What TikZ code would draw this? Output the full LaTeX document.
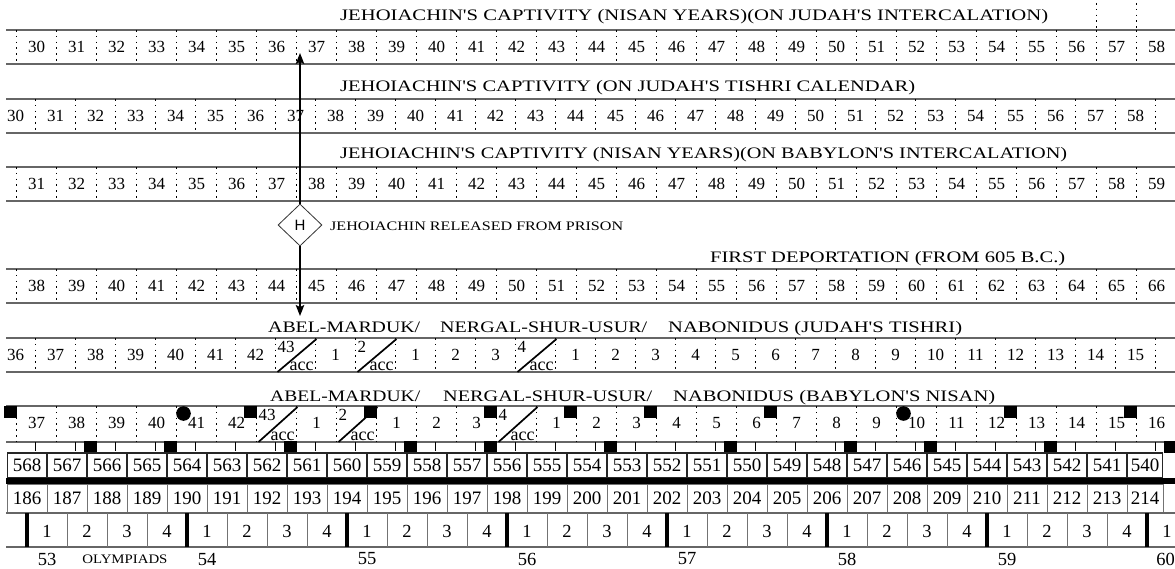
\documentclass[tikz,border=0pt]{standalone}
\usepackage{fontspec}
\usepackage{graphicx}
\setmainfont{Liberation Serif}
\setsansfont{Liberation Sans}
\usetikzlibrary{shapes.geometric,arrows.meta}
\newcommand\AccCell[5]{%
  \draw[accslash] (#1+2,#3) -- (#1+41,#2+1);
  \node[num, anchor=north west] (#5n) at (#1+2,#2+3) {#4};
  \node[accd, anchor=base] (#5d) at (#1+26,#3-1.5) {acc};
}
\newcommand\Q{\textquotesingle}
\newcommand\WW[2]{\resizebox{#1pt}{\height}{#2}}
\begin{document}
\begin{tikzpicture}[x=1pt,y=-1pt,
  hl/.style={draw=black!60,line width=1.3pt},
  dd/.style={draw=black,line width=1.6pt,dash pattern=on 1.6pt off 4.2pt},
  num/.style={font=\fontsize{17}{18}\selectfont,inner sep=0pt},
  ttl/.style={font=\fontsize{16}{17}\selectfont,inner sep=0pt,anchor=base west},
  accd/.style={font=\fontsize{18}{19}\selectfont,inner sep=0pt},
  accslash/.style={line width=1.7pt},
  ybox/.style={draw=black!85,line width=1.1pt,inner sep=0pt,minimum height=25pt,font=\fontsize{19}{20}\selectfont},
  cbox/.style={draw=black!55,line width=0.9pt,inner sep=0pt,minimum height=29pt,font=\fontsize{19}{20}\selectfont},
  onum/.style={font=\fontsize{18.5}{20}\selectfont,inner sep=0pt},
  smalltxt/.style={font=\fontsize{13}{14}\selectfont,inner sep=0pt},
  arr/.style={line width=1.6pt,-{Stealth[length=11pt,width=8.5pt,inset=2pt]}},
]
\fill[white] (0,0) rectangle (1175,569);
\useasboundingbox (0,0) rectangle (1175,569);

% ---------- Row A ----------
\node[ttl] (tA) at (340,21) {\WW{708}{JEHOIACHIN\Q S CAPTIVITY (NISAN YEARS)(ON JUDAH\Q S INTERCALATION)}};
\draw[hl] (6,30) -- (1175,30);
\draw[hl] (6,64) -- (1175,64);
\foreach \k in {0,...,28}{
  \draw[dd] (16.5+40*\k,30) -- (16.5+40*\k,64);
  \pgfmathtruncatemacro\n{30+\k}
  \node[num] (a\k) at (36.5+40*\k,47) {\n};
}
\draw[dd] (1096.5,3) -- (1096.5,30);
\draw[dd] (1136.5,3) -- (1136.5,30);

% ---------- Row B ----------
\node[ttl] (tB) at (340,92) {\WW{575}{JEHOIACHIN\Q S CAPTIVITY (ON JUDAH\Q S TISHRI CALENDAR)}};
\draw[hl] (6,99) -- (1175,99);
\draw[hl] (6,133) -- (1175,133);
\foreach \k in {0,...,28}{
  \draw[dd] (35.5+40*\k,99) -- (35.5+40*\k,133);
  \pgfmathtruncatemacro\n{30+\k}
  \node[num] (b\k) at (15.5+40*\k,116) {\n};
}

% ---------- Row C ----------
\node[ttl] (tC) at (340,159) {\WW{727}{JEHOIACHIN\Q S CAPTIVITY (NISAN YEARS)(ON BABYLON\Q S INTERCALATION)}};
\draw[hl] (6,167) -- (1175,167);
\draw[hl] (6,201) -- (1175,201);
\foreach \k in {0,...,28}{
  \draw[dd] (16.5+40*\k,167) -- (16.5+40*\k,201);
  \pgfmathtruncatemacro\n{31+\k}
  \node[num] (c\k) at (36.5+40*\k,184) {\n};
}

% ---------- Row D ----------
\node[ttl] (tD) at (710,263) {\WW{355}{FIRST DEPORTATION (FROM 605 B.C.)}};
\draw[hl] (6,269) -- (1175,269);
\draw[hl] (6,303) -- (1175,303);
\foreach \k in {0,...,28}{
  \draw[dd] (16.5+40*\k,269) -- (16.5+40*\k,303);
  \pgfmathtruncatemacro\n{38+\k}
  \node[num] (d\k) at (36.5+40*\k,286) {\n};
}

% ---------- Row E ----------
\node[ttl] (tE1) at (268,332) {\WW{152}{ABEL-MARDUK/}};
\node[ttl] (tE2) at (440,332) {\WW{207}{NERGAL-SHUR-USUR/}};
\node[ttl] (tE3) at (668,332) {\WW{294}{NABONIDUS (JUDAH\Q S TISHRI)}};
\draw[hl] (6,338) -- (1175,338);
\draw[hl] (6,372) -- (1175,372);
\foreach \k in {0,...,28}{
  \draw[dd] (35.5+40*\k,338) -- (35.5+40*\k,372);
}
\foreach \k/\l in {0/36,1/37,2/38,3/39,4/40,5/41,6/42,8/1,10/1,11/2,12/3}{
  \node[num] (e\k) at (15.5+40*\k,355) {\l};
}
\foreach \l in {1,...,15}{
  \node[num] (ee\l) at (15.5+40*13+40*\l,355) {\l};
}
\AccCell{275.5}{338}{372}{43}{eA}
\AccCell{355.5}{338}{372}{2}{eB}
\AccCell{515.5}{338}{372}{4}{eC}

% ---------- Row F ----------
\node[ttl] (tF1) at (270,401) {\WW{150}{ABEL-MARDUK/}};
\node[ttl] (tF2) at (443,401) {\WW{209}{NERGAL-SHUR-USUR/}};
\node[ttl] (tF3) at (673,401) {\WW{322}{NABONIDUS (BABYLON\Q S NISAN)}};
\draw[hl] (6,406) -- (1175,406);
\draw[hl] (6,442) -- (1175,442);
\foreach \k in {0,...,28}{
  \draw[dd] (16.5+40*\k,406) -- (16.5+40*\k,442);
}
\foreach \k/\l in {0/37,1/38,2/39,3/40,4/41,5/42,7/1,9/1,10/2,11/3}{
  \node[num] (f\k) at (36.5+40*\k,423) {\l};
}
\foreach \l in {1,...,16}{
  \node[num] (ff\l) at (36.5+40*12+40*\l,423) {\l};
}
\AccCell{256.5}{406}{442}{43}{fA}
\AccCell{336.5}{406}{442}{2}{fB}
\AccCell{496.5}{406}{442}{4}{fC}
\foreach \k in {0,6,9,12,14,16,19,25,28}{
  \fill (16.5+40*\k-13,406) rectangle (16.5+40*\k,418);
}
\foreach \k in {4,22}{
  \fill (16.5+40*\k+7,413.5) circle[radius=7.3pt];
}

% ---------- tick row ----------
\foreach \k in {0,...,28}{
  \draw[line width=1pt] (35.5+40*\k,442) -- (35.5+40*\k,451);
}
\foreach \k in {2,4,7,10,12,15,18,21,23,26,29}{
  \fill (16.5+40*\k-13,441) rectangle (16.5+40*\k,453);
}

% ---------- year boxes ----------
\foreach \i in {0,...,27}{
  \pgfmathtruncatemacro\n{568-\i}
  \node[ybox,minimum width=38.2pt] (y\i) at (27+40*\i,465.5) {\n};
}
\node[ybox,minimum width=34.2pt] (y28) at (1145,465.5) {540};
\fill (6,478) rectangle (1175,483.5);

% ---------- second number row ----------
\foreach \i in {0,...,27}{
  \pgfmathtruncatemacro\n{186+\i}
  \node[cbox,minimum width=40pt] (z\i) at (27+40*\i,498.5) {\n};
}
\node[cbox,minimum width=36pt] (z28) at (1145,498.5) {214};
\draw[hl] (6,513) -- (1175,513);
\draw[hl] (6,547) -- (1175,547);

% ---------- olympiads ----------
\foreach \k in {0,...,28}{
  \pgfmathtruncatemacro\m{mod(\k,4)}
  \ifnum\m=0
    \draw[line width=3.2pt] (27+40*\k,513) -- (27+40*\k,547);
  \else
    \draw[draw=black!55,line width=0.9pt] (27+40*\k,513) -- (27+40*\k,547);
  \fi
  \pgfmathtruncatemacro\o{\m+1}
  \node[onum] (o\k) at (47+40*\k,531) {\o};
}
\foreach \j in {0,...,6}{
  \pgfmathtruncatemacro\n{53+\j}
  \node[onum] (ol\j) at (47+160*\j,559) {\n};
}
\node[onum,anchor=east] (ol7) at (1175,559) {60};
\node[smalltxt] (olym) at (125,559) {\WW{85}{OLYMPIADS}};

% ---------- release marker ----------
\node[diamond,draw=black!80,line width=0.8pt,minimum width=44pt,minimum height=42pt,inner sep=0pt,fill=white,font=\sffamily\fontsize{15}{17}\selectfont] (H) at (300,225) {H};
\node[smalltxt,anchor=west] (rel) at (330,226) {\WW{293}{JEHOIACHIN RELEASED FROM PRISON}};
\coordinate (upT) at (300,53);
\coordinate (dnT) at (300,316);
\draw[arr] (H.north) -- (upT);
\draw[arr] (H.south) -- (dnT);
\end{tikzpicture}
\end{document}
